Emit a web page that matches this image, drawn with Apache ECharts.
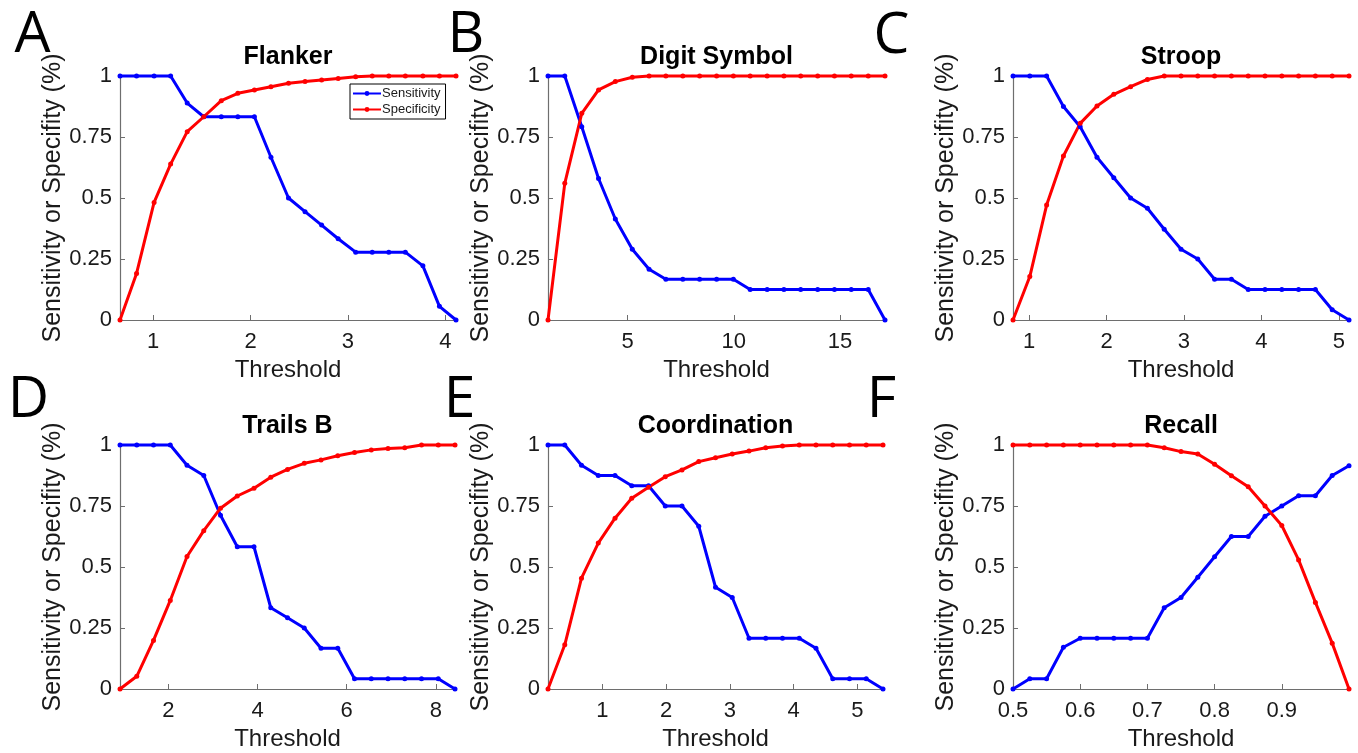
<!DOCTYPE html>
<html>
<head>
<meta charset="utf-8">
<script src="https://cdn.jsdelivr.net/npm/echarts@6/dist/echarts.min.js"></script>
<style>
html,body{margin:0;padding:0;background:#fff;}
#chart{width:1358px;height:753px;}
</style>
</head>
<body>
<div id="chart"></div>
<script>
// ---------- Data ----------
const yTicks = [0, 0.25, 0.5, 0.75, 1];

// A: Flanker
const flankerX    = [0.66, 0.83, 1.01, 1.18, 1.35, 1.52, 1.70, 1.87, 2.04, 2.21, 2.39, 2.56, 2.73, 2.90, 3.08, 3.25, 3.42, 3.59, 3.77, 3.94, 4.11];
const flankerSens = [1, 1, 1, 1, 0.889, 0.833, 0.833, 0.833, 0.833, 0.667, 0.5, 0.444, 0.389, 0.333, 0.278, 0.278, 0.278, 0.278, 0.222, 0.056, 0];
const flankerSpec = [0, 0.191, 0.482, 0.639, 0.772, 0.833, 0.899, 0.929, 0.943, 0.956, 0.97, 0.977, 0.984, 0.99, 0.997, 1, 1, 1, 1, 1, 1];
const flankerTicks = [1, 2, 3, 4];

// B: Digit Symbol
const digitX    = [1.25, 2.04, 2.84, 3.63, 4.42, 5.22, 6.01, 6.80, 7.60, 8.39, 9.19, 9.98, 10.77, 11.57, 12.36, 13.15, 13.95, 14.74, 15.53, 16.33, 17.12];
const digitSens = [1, 1, 0.792, 0.58, 0.414, 0.29, 0.208, 0.167, 0.167, 0.167, 0.167, 0.167, 0.125, 0.125, 0.125, 0.125, 0.125, 0.125, 0.125, 0.125, 0];
const digitSpec = [0, 0.56, 0.847, 0.943, 0.977, 0.995, 1, 1, 1, 1, 1, 1, 1, 1, 1, 1, 1, 1, 1, 1, 1];
const digitTicks = [5, 10, 15];

// C: Stroop
const stroopX    = [0.793, 1.010, 1.227, 1.444, 1.660, 1.877, 2.094, 2.311, 2.528, 2.745, 2.962, 3.178, 3.395, 3.612, 3.829, 4.046, 4.263, 4.479, 4.696, 4.913, 5.130];
const stroopSens = [1, 1, 1, 0.875, 0.792, 0.667, 0.583, 0.5, 0.458, 0.372, 0.29, 0.25, 0.167, 0.167, 0.125, 0.125, 0.125, 0.125, 0.125, 0.042, 0];
const stroopSpec = [0, 0.178, 0.471, 0.672, 0.806, 0.877, 0.925, 0.956, 0.986, 1, 1, 1, 1, 1, 1, 1, 1, 1, 1, 1, 1];
const stroopTicks = [1, 2, 3, 4, 5];

// D: Trails B
const trailsX    = [0.917, 1.293, 1.668, 2.044, 2.419, 2.795, 3.170, 3.546, 3.921, 4.297, 4.672, 5.048, 5.423, 5.799, 6.174, 6.550, 6.925, 7.301, 7.676, 8.052, 8.427];
const trailsSens = [1, 1, 1, 1, 0.917, 0.875, 0.712, 0.583, 0.583, 0.333, 0.292, 0.25, 0.167, 0.167, 0.042, 0.042, 0.042, 0.042, 0.042, 0.042, 0];
const trailsSpec = [0, 0.052, 0.199, 0.363, 0.543, 0.649, 0.741, 0.791, 0.823, 0.868, 0.9, 0.925, 0.939, 0.956, 0.969, 0.98, 0.986, 0.989, 1, 1, 1];
const trailsTicks = [2, 4, 6, 8];

// E: Coordination
const coordX    = [0.147, 0.410, 0.672, 0.935, 1.198, 1.460, 1.723, 1.986, 2.248, 2.511, 2.774, 3.036, 3.299, 3.561, 3.824, 4.087, 4.349, 4.612, 4.875, 5.137, 5.400];
const coordSens = [1, 1, 0.917, 0.875, 0.875, 0.833, 0.833, 0.75, 0.75, 0.667, 0.417, 0.375, 0.208, 0.208, 0.208, 0.208, 0.167, 0.042, 0.042, 0.042, 0];
const coordSpec = [0, 0.181, 0.454, 0.598, 0.7, 0.782, 0.827, 0.87, 0.898, 0.932, 0.948, 0.963, 0.975, 0.989, 0.996, 1, 1, 1, 1, 1, 1];
const coordTicks = [1, 2, 3, 4, 5];

// F: Recall
const recallX    = [0.5, 0.525, 0.55, 0.575, 0.6, 0.625, 0.65, 0.675, 0.7, 0.725, 0.75, 0.775, 0.8, 0.825, 0.85, 0.875, 0.9, 0.925, 0.95, 0.975, 1.0];
const recallSens = [0, 0.042, 0.042, 0.171, 0.208, 0.208, 0.208, 0.208, 0.208, 0.333, 0.375, 0.458, 0.542, 0.625, 0.625, 0.708, 0.75, 0.792, 0.792, 0.875, 0.915];
const recallSpec = [1, 1, 1, 1, 1, 1, 1, 1, 1, 0.989, 0.973, 0.963, 0.921, 0.874, 0.829, 0.75, 0.67, 0.529, 0.355, 0.188, 0];
const recallTicks = [0.5, 0.6, 0.7, 0.8, 0.9];

// ---------- Layout ----------
const panels = [
  {letter:'A', title:'Flanker',      x:flankerX, sens:flankerSens, spec:flankerSpec, ticks:flankerTicks, left:120,  width:336, top:76,  lx:32.5, ly:36},
  {letter:'B', title:'Digit Symbol', x:digitX,   sens:digitSens,   spec:digitSpec,   ticks:digitTicks,   left:548,  width:337, top:76,  lx:466,  ly:36},
  {letter:'C', title:'Stroop',       x:stroopX,  sens:stroopSens,  spec:stroopSpec,  ticks:stroopTicks,  left:1013, width:336, top:76,  lx:891.5,ly:36.5},
  {letter:'D', title:'Trails B',     x:trailsX,  sens:trailsSens,  spec:trailsSpec,  ticks:trailsTicks,  left:120,  width:335, top:445, lx:28.5, ly:400.5},
  {letter:'E', title:'Coordination', x:coordX,   sens:coordSens,   spec:coordSpec,   ticks:coordTicks,   left:548,  width:335, top:445, lx:459.5,ly:400.5},
  {letter:'F', title:'Recall',       x:recallX,  sens:recallSens,  spec:recallSpec,  ticks:recallTicks,  left:1013, width:336, top:445, lx:881.5,ly:400.5}
];
const plotH = 244;
const FONT = '"Liberation Sans", Arial, Helvetica, sans-serif';
const axisColor = '#6e6e6e';
const textColor = '#1a1a1a';

const grid = [], xAxis = [], yAxis = [], series = [], graphic = [];
panels.forEach((p, i) => {
  grid.push({left: p.left, top: p.top, width: p.width, height: plotH, containLabel: false});
  xAxis.push({
    type: 'value', gridIndex: i,
    min: p.x[0], max: p.x[p.x.length - 1],
    name: 'Threshold', nameLocation: 'middle', nameGap: 38,
    nameTextStyle: {fontFamily: FONT, fontSize: 24, color: textColor},
    axisLine: {show: true, lineStyle: {color: axisColor, width: 1.2}},
    axisTick: {show: true, inside: true, length: 5, customValues: p.ticks, lineStyle: {color: axisColor}},
    axisLabel: {customValues: p.ticks, margin: 11, fontFamily: FONT, fontSize: 22, color: textColor},
    splitLine: {show: false}
  });
  yAxis.push({
    type: 'value', gridIndex: i,
    min: 0, max: 1, interval: 0.25,
    name: 'Sensitivity or Specifity (%)', nameLocation: 'middle', nameGap: 52, nameRotate: 90,
    nameTextStyle: {fontFamily: FONT, fontSize: 25, color: textColor},
    axisLine: {show: true, lineStyle: {color: axisColor, width: 1.2}},
    axisTick: {show: true, inside: true, length: 5, lineStyle: {color: axisColor}},
    axisLabel: {margin: 8, fontFamily: FONT, fontSize: 22, color: textColor,
      formatter: v => String(v)},
    splitLine: {show: false}
  });
  const mk = (name, vals, color) => ({
    name, type: 'line', xAxisIndex: i, yAxisIndex: i,
    data: p.x.map((xv, k) => [xv, vals[k]]),
    symbol: 'circle', symbolSize: 5, showSymbol: true,
    lineStyle: {color, width: 3}, itemStyle: {color},
    emphasis: {disabled: true}, animation: false, clip: false
  });
  series.push(mk('Sensitivity', p.sens, '#0000ff'));
  series.push(mk('Specificity', p.spec, '#ff0000'));
  graphic.push({type: 'text', x: p.left + p.width / 2, y: p.top - 19,
    style: {text: p.title, fontFamily: FONT, fontSize: 25, fontWeight: 'bold', fill: '#000', align: 'center', verticalAlign: 'middle'}});
  graphic.push({type: 'text', x: p.lx, y: p.ly,
    style: {text: p.letter, fontFamily: '"Open Sans", "Liberation Sans", sans-serif', fontSize: 57, fill: '#000', align: 'center', verticalAlign: 'middle'}});
});

const chart = echarts.init(document.getElementById('chart'), null, {renderer: 'canvas'});
chart.setOption({
  animation: false,
  backgroundColor: '#ffffff',
  grid, xAxis, yAxis, series, graphic,
  legend: {
    data: ['Sensitivity', 'Specificity'],
    orient: 'vertical', left: 350, top: 84,
    backgroundColor: '#fff', borderColor: '#000', borderWidth: 1, borderRadius: 0,
    padding: [3, 5, 3, 2], itemGap: 3, itemWidth: 28, itemHeight: 6,
    textStyle: {fontFamily: FONT, fontSize: 13, color: textColor, padding: [0, 0, 0, -4]},
    selectedMode: false
  }
});
</script>
</body>
</html>
